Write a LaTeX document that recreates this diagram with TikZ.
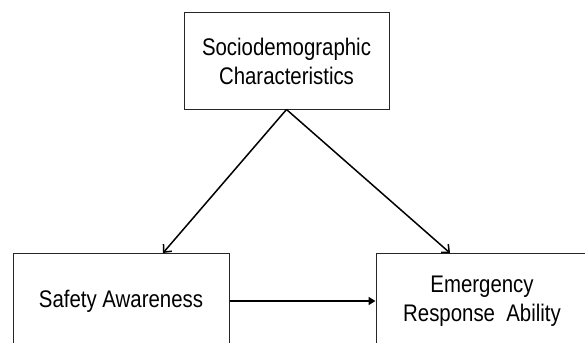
\documentclass[tikz,border=0pt]{standalone}
\usepackage{fontspec}
\setmainfont[FakeStretch=0.85]{Liberation Sans}
\usetikzlibrary{arrows.meta}
\begin{document}
\begin{tikzpicture}[x=1pt,y=-1pt,
  box/.style={draw=black!85, line width=1pt, align=center, inner sep=0pt,
    minimum height=96pt, font=\fontsize{24}{29}\selectfont},
  arr/.style={line width=1.5pt, -{Straight Barb[length=6pt,width=11pt,line width=1.5pt]}},
  harr/.style={line width=1.6pt, -{Triangle[length=7pt,width=8pt]}}]
\clip (0,0) rectangle (585,342);
\node[box, minimum width=205pt] (soc) at (286.5,61) {Sociodemographic\\Characteristics};
\node[box, minimum width=216pt] (sa) at (121,301) {Safety Awareness};
\node[box, minimum width=212pt] (era) at (482,301) {Emergency\\Response\ \ Ability};
\coordinate (saIn) at (163,253);
\coordinate (eraIn) at (450,253);
\draw[arr] (soc.south) -- (saIn);
\draw[arr] (soc.south) -- (eraIn);
\draw[harr] (sa.east) -- (era.west);
\end{tikzpicture}
\end{document}
